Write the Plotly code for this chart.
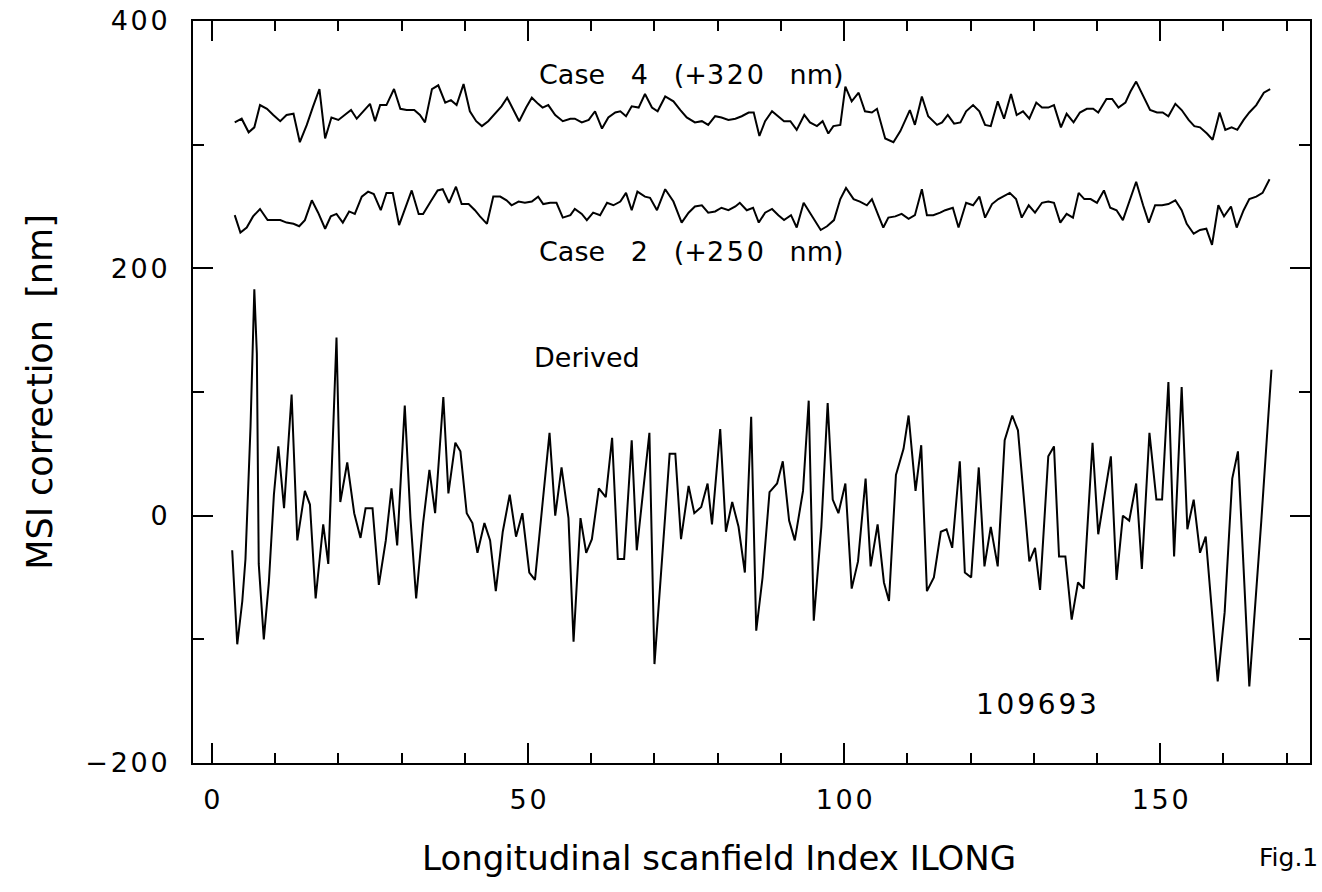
import plotly.graph_objects as go

# ---------------- data ----------------
derived_x = [3.2, 4.0, 4.8, 5.3, 6.1, 6.7, 7.1, 7.4, 8.2, 9.0, 9.8, 10.5, 11.4, 12.2, 12.6, 13.5, 14.7, 15.5, 16.4, 17.6,
             18.4, 19.7, 20.3, 21.4, 22.5, 23.5, 24.3, 25.4, 26.4, 27.5, 28.4, 29.3, 30.5, 31.4, 32.3, 33.4, 34.4, 35.3,
             36.6, 37.4, 38.5, 39.3, 40.3, 41.2, 42.0, 43.1, 44.0, 44.9, 46.0, 47.1, 48.1, 49.1, 50.2, 51.1, 52.1, 53.4,
             54.3, 55.3, 56.4, 57.2, 58.3, 59.2, 60.1, 61.2, 62.3, 63.3, 64.2, 65.2, 66.4, 67.2, 69.2, 70.0, 72.4, 73.3,
             74.2, 75.4, 76.3, 77.4, 78.4, 79.1, 80.4, 81.3, 82.3, 83.3, 84.3, 85.3, 86.1, 87.1, 88.2, 89.4, 90.3, 91.3,
             92.2, 93.5, 94.4, 95.2, 96.4, 97.4, 98.2, 99.1, 100.2, 101.2, 102.2, 103.4, 104.2, 105.3, 106.3, 107.1,
             108.2, 109.4, 110.2, 111.3, 112.2, 113.1, 114.2, 115.3, 116.2, 117.1, 118.3, 119.1, 120.1, 121.3, 122.2,
             123.2, 124.3, 125.4, 126.6, 127.5, 128.3, 129.3, 130.2, 131.0, 132.3, 133.2, 134.0, 135.0, 136.0, 137.0,
             137.9, 139.3, 140.2, 141.1, 142.2, 143.1, 144.1, 145.1, 146.2, 147.1, 148.3, 149.4, 150.3, 151.3, 152.2,
             153.4, 154.3, 155.3, 156.3, 157.2, 159.1, 160.2, 161.4, 162.3, 164.1, 166.0, 167.6]
derived_y = [-28, -104, -69, -35, 72, 183, 131, -39, -100, -54, 17, 56, 6, 72, 98, -20, 20, 9, -67, -7,
             -39, 144, 11, 43, 2, -18, 6, 6, -56, -20, 22, -24, 89, -2, -67, -6, 37, 2,
             96, 18, 59, 52, 2, -6, -30, -6, -20, -61, -13, 17, -17, 2, -46, -52, -2, 67,
             0, 39, -2, -102, -2, -30, -19, 22, 15, 63, -35, -35, 61, -28, 67, -120, 50, 50,
             -19, 24, 2, 7, 26, -7, 70, -13, 11, -9, -46, 80, -93, -50, 19, 26, 44, -4,
             -20, 20, 93, -85, -9, 91, 13, 2, 26, -59, -37, 30, -41, -7, -54, -69,
             33, 54, 81, 20, 57, -61, -50, -13, -11, -26, 44, -46, -50, 39, -41,
             -9, -41, 61, 81, 69, 22, -37, -26, -60, 48, 56, -33, -33, -84, -54,
             -59, 59, -15, 15, 48, -52, 0, -4, 26, -43, 67, 13, 13, 108, -33,
             104, -11, 13, -30, -17, -134, -78, 30, 52, -138, -4, 118]

case4_x = [3.6, 4.7, 5.8, 6.7, 7.6, 8.7, 9.7, 10.8, 11.8, 12.9, 13.9, 15.0, 16.0, 17.0, 17.9, 18.9, 20.0, 21.0, 22.0,
           22.9, 24.0, 25.0, 25.8, 26.6, 27.6, 28.8, 29.8, 30.8, 32.0, 32.9, 33.7, 34.8, 35.8, 36.9, 37.8, 38.7, 39.8,
           40.8, 41.8, 42.7, 43.7, 44.8, 45.8, 46.7, 47.7, 48.6, 49.7, 50.6, 51.6, 52.3, 53.2, 54.3, 55.5, 56.7, 57.4,
           58.5, 59.6, 60.6, 61.7, 62.7, 63.8, 64.6, 65.5, 66.4, 67.5, 68.5, 69.6, 70.5, 71.7, 73.0, 74.1, 75.1, 76.4,
           77.5, 78.5, 79.6, 80.6, 81.7, 82.8, 83.8, 84.9, 85.7, 86.6, 87.5, 88.6, 89.6, 90.5, 91.5, 92.5, 93.7, 94.6,
           95.7, 96.6, 97.5, 98.3, 99.4, 100.2, 101.2, 102.3, 103.3, 104.4, 105.2, 106.5, 107.8, 108.9, 110.4, 111.2,
           112.3, 113.3, 114.7, 115.5, 116.4, 117.4, 118.4, 119.3, 120.4, 121.4, 122.3, 123.2, 124.3, 125.3, 126.4,
           127.3, 128.3, 129.3, 130.4, 131.3, 132.3, 133.2, 134.3, 135.2, 136.3, 137.3, 138.4, 139.4, 140.2, 141.5,
           142.4, 143.4, 144.5, 145.3, 146.2, 147.3, 148.4, 149.5, 150.4, 151.3, 152.4, 153.4, 154.5, 155.4, 156.3,
           157.4, 158.3, 159.4, 160.3, 161.3, 162.2, 163.2, 164.1, 165.2, 166.4, 167.4]
case4_y = [318, 321, 310, 314, 332, 329, 324, 319, 324, 325, 302, 316, 331, 345, 305, 322, 320, 324, 328,
           321, 327, 333, 319, 332, 332, 345, 329, 328, 328, 324, 318, 345, 348, 334, 336, 332, 349,
           327, 319, 315, 319, 325, 331, 338, 328, 319, 330, 338, 333, 330, 332, 324, 319, 321, 321,
           318, 320, 327, 313, 322, 326, 327, 323, 331, 330, 341, 330, 327, 339, 335, 328, 322, 318,
           319, 316, 323, 322, 320, 321, 323, 326, 326, 307, 319, 327, 323, 319, 319, 312, 324, 318,
           315, 319, 309, 315, 316, 347, 335, 342, 327, 326, 329, 305, 302, 311, 328, 316,
           339, 323, 316, 318, 324, 317, 318, 327, 332, 327, 316, 315, 335, 321, 341,
           324, 327, 321, 334, 330, 330, 332, 314, 325, 318, 326, 329, 329, 326, 337,
           337, 330, 334, 343, 351, 339, 328, 326, 326, 323, 333, 328, 320, 315, 314,
           309, 304, 326, 312, 314, 312, 320, 326, 332, 342, 345]

case2_x = [3.6, 4.5, 5.5, 6.5, 7.6, 8.8, 9.7, 10.8, 11.8, 12.9, 13.8, 14.7, 15.8, 16.8, 17.9, 18.8, 19.7, 20.7, 21.7,
           22.6, 23.7, 24.7, 25.6, 26.7, 27.6, 28.6, 29.6, 30.5, 31.6, 32.7, 33.4, 34.6, 35.7, 36.5, 37.5, 38.6, 39.5,
           40.6, 41.6, 42.4, 43.5, 44.5, 45.6, 46.6, 47.4, 48.5, 49.5, 50.6, 51.6, 52.4, 53.5, 54.5, 55.5, 56.7, 57.4,
           58.5, 59.3, 60.3, 61.4, 62.5, 63.5, 64.6, 65.5, 66.4, 67.3, 68.5, 69.3, 70.4, 71.7, 73.0, 74.3, 75.4, 76.4,
           77.5, 78.5, 79.6, 80.6, 81.7, 82.8, 83.5, 84.6, 85.6, 86.5, 87.5, 88.6, 89.6, 90.5, 91.6, 92.5, 93.6, 94.9,
           96.3, 97.3, 98.4, 99.4, 100.3, 101.5, 102.5, 103.6, 104.4, 105.4, 106.2, 107.0, 108.1, 109.1, 110.2, 111.2,
           112.3, 113.1, 114.1, 115.2, 116.0, 117.2, 118.1, 119.3, 120.4, 121.4, 122.3, 123.4, 124.4, 126.2, 127.2,
           128.1, 129.2, 130.2, 131.3, 132.3, 133.2, 134.2, 135.2, 136.2, 137.1, 138.0, 139.0, 140.0, 141.1, 142.1,
           143.1, 144.1, 145.2, 146.2, 147.3, 148.2, 149.2, 150.3, 151.3, 152.4, 153.4, 154.2, 155.3, 156.3, 157.3,
           158.2, 159.2, 160.1, 161.2, 162.1, 163.2, 164.1, 165.2, 166.2, 167.3]
case2_y = [243, 229, 233, 242, 248, 239, 239, 239, 237, 236, 234, 239, 255, 245, 232, 242, 244, 237, 246,
           244, 258, 262, 260, 247, 261, 261, 235, 247, 263, 244, 244, 254, 263, 264, 253, 266, 252,
           252, 247, 242, 236, 258, 258, 255, 251, 254, 253, 254, 258, 252, 253, 253, 241, 243, 248,
           244, 239, 245, 243, 253, 251, 254, 261, 247, 262, 258, 257, 247, 264, 254, 237, 245, 250,
           251, 245, 246, 249, 247, 250, 253, 247, 249, 237, 245, 248, 243, 239, 243, 233, 253, 242,
           231, 234, 239, 256, 265, 256, 254, 251, 256, 243, 233, 241, 242, 244, 240, 243,
           264, 243, 243, 245, 247, 249, 233, 253, 251, 258, 241, 252, 256, 261, 256,
           241, 251, 245, 253, 254, 253, 237, 244, 241, 261, 256, 256, 253, 263, 249,
           247, 239, 256, 270, 251, 237, 251, 251, 252, 255, 247, 236, 228, 231, 232,
           219, 251, 242, 250, 233, 247, 256, 258, 261, 272]

x_ticks = [0, 50, 100, 150]
y_ticks = [-200, 0, 200, 400]

FONT = "DejaVu Sans"
HS = "\u200a"   # hair space: widens digits slightly, like the plotter font
NB = "\u00a0"


def spaced(s):
    return HS.join(s.replace("-", "\u2212"))


line = dict(color="black", width=2)

fig = go.Figure()
fig.add_trace(go.Scatter(x=case4_x, y=case4_y, mode="lines", line=line, name="Case 4 (+320 nm)"))
fig.add_trace(go.Scatter(x=case2_x, y=case2_y, mode="lines", line=line, name="Case 2 (+250 nm)"))
fig.add_trace(go.Scatter(x=derived_x, y=derived_y, mode="lines", line=line, name="Derived"))

gap = NB * 3
ann_font = dict(family=FONT, size=27, color="black")
fig.add_annotation(x=75.8, y=357, text=f"Case{gap}4{gap}(+{spaced('320')}{gap}nm)", showarrow=False, font=ann_font)
fig.add_annotation(x=75.8, y=214, text=f"Case{gap}2{gap}(+{spaced('250')}{gap}nm)", showarrow=False, font=ann_font)
fig.add_annotation(x=59.3, y=128, text="Derived", showarrow=False, font=ann_font)
fig.add_annotation(x=130.5, y=-153, text=spaced("109693"), showarrow=False, font=dict(family=FONT, size=28, color="black"))
fig.add_annotation(xref="paper", yref="paper", x=(1320 - 193) / 1117, y=-0.128, xanchor="right", yanchor="middle",
                   text="Fig.1", showarrow=False, font=dict(family=FONT, size=25, color="black"))

axis_common = dict(
    showgrid=False, zeroline=False, showline=True, linecolor="black", linewidth=2,
    mirror="allticks", ticks="inside", tickcolor="black", tickwidth=1.5, ticklen=20,
    tickfont=dict(family=FONT, size=27, color="black"),
)

fig.update_xaxes(range=[-3, 173.7], tickvals=x_ticks, ticktext=[spaced(str(v)) for v in x_ticks],
                 minor=dict(dtick=10, tick0=0, ticks="inside", ticklen=10, tickcolor="black", tickwidth=1.5),
                 title=dict(text="Longitudinal scanfield Index ILONG" + NB * 6 + "\u200b",
                            font=dict(family=FONT, size=34, color="black"), standoff=32),
                 ticklabelstandoff=12, **axis_common)
fig.update_yaxes(range=[-200, 400], tickvals=y_ticks, ticktext=[spaced(str(v)) for v in y_ticks],
                 minor=dict(dtick=100, tick0=0, ticks="inside", ticklen=11, tickcolor="black", tickwidth=1.5),
                 title=dict(text="MSI correction  [nm]", font=dict(family=FONT, size=35, color="black"),
                            standoff=22),
                 ticklabelstandoff=18, **axis_common)

fig.update_layout(
    width=1322, height=892, autosize=False,
    margin=dict(l=193, r=12, t=21, b=129, autoexpand=False),
    paper_bgcolor="white", plot_bgcolor="white",
    showlegend=False,
)

fig.write_html("out.html")
